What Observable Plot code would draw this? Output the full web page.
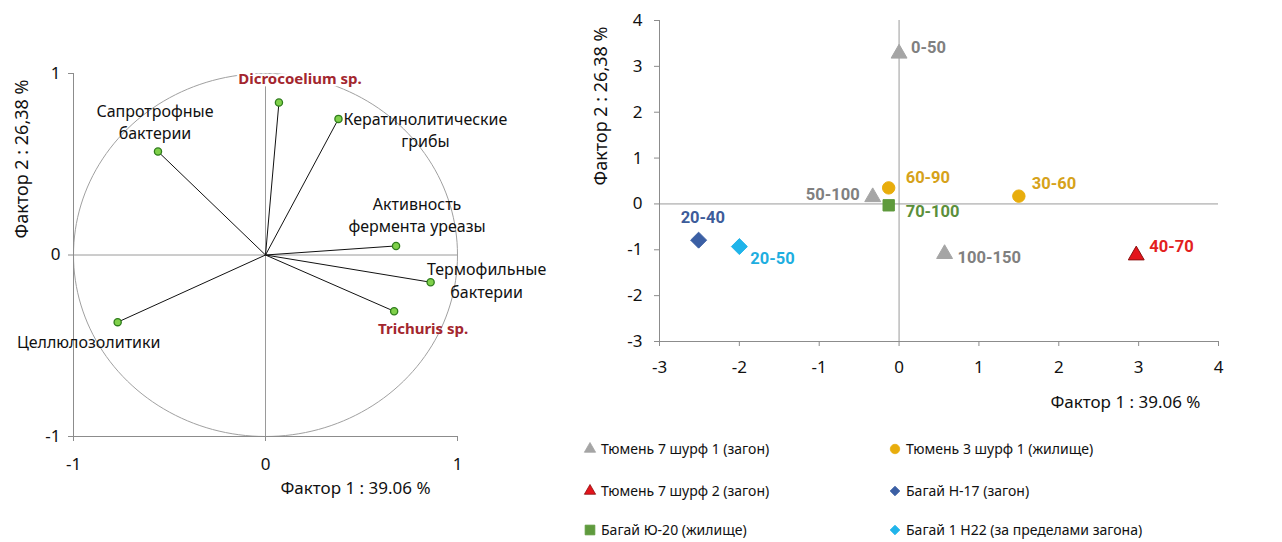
<!DOCTYPE html>
<html>
<head>
<meta charset="utf-8">
<script src="https://cdn.jsdelivr.net/npm/d3@7"></script>
<script src="https://cdn.jsdelivr.net/npm/@observablehq/plot@0.6"></script>
<style>
  html, body { margin: 0; padding: 0; background: #fff; }
  #wrap { position: relative; width: 1282px; height: 542px; overflow: hidden; background: #fff; font-family: "Noto Sans", sans-serif; }
  #left { position: absolute; left: 0; top: 0; }
  #right { position: absolute; left: 540px; top: 0; }
  .leg { position: absolute; height: 20px; line-height: 20px; font-size: 14px; color: #111; white-space: nowrap; display: flex; align-items: center; }
  .leg svg { margin-right: 4px; }
</style>
</head>
<body>
<div id="wrap">
  <div id="left"></div>
  <div id="right"></div>
  <div id="legend"></div>
</div>
<script>
// ---------- Left chart data (loadings) ----------
const leftNames = ["Dicrocoelium sp.", "Кератинолитические\nгрибы", "Сапротрофные\nбактерии", "Активность\nфермента уреазы", "Термофильные\nбактерии", "Trichuris sp.", "Целлюлозолитики"];
const leftF1 = [0.07, 0.38, -0.56, 0.68, 0.86, 0.67, -0.77];
const leftF2 = [0.84, 0.75, 0.57, 0.05, -0.15, -0.31, -0.37];
const leftTicks = [-1, 0, 1];

// ---------- Right chart data (scores) ----------
const rightLabels = ["0-50", "50-100", "100-150", "40-70", "60-90", "30-60", "70-100", "20-40", "20-50"];
const rightGroups = ["Тюмень 7 шурф 1 (загон)", "Тюмень 7 шурф 1 (загон)", "Тюмень 7 шурф 1 (загон)", "Тюмень 7 шурф 2 (загон)", "Тюмень 3 шурф 1 (жилище)", "Тюмень 3 шурф 1 (жилище)", "Багай Ю-20 (жилище)", "Багай Н-17 (загон)", "Багай 1 Н22 (за пределами загона)"];
const rightF1 = [0.0, -0.33, 0.57, 2.97, -0.13, 1.5, -0.13, -2.51, -2.0];
const rightF2 = [3.28, 0.15, -1.09, -1.12, 0.35, 0.17, -0.03, -0.79, -0.93];
const rightXTicks = [-3, -2, -1, 0, 1, 2, 3, 4];
const rightYTicks = [-3, -2, -1, 0, 1, 2, 3, 4];
const legendOrder = ["Тюмень 7 шурф 1 (загон)", "Тюмень 3 шурф 1 (жилище)", "Тюмень 7 шурф 2 (загон)", "Багай Н-17 (загон)", "Багай Ю-20 (жилище)", "Багай 1 Н22 (за пределами загона)"];

const axis1 = "Фактор 1 : 39.06 %";
const axis2 = "Фактор 2 : 26,38 %";

// ---------- Styles ----------
const groupStyle = {
  "Тюмень 7 шурф 1 (загон)": {symbol: "triangle", fill: "#a5a5a5", stroke: "#a5a5a5", text: "#808080", r: 5.9},
  "Тюмень 3 шурф 1 (жилище)": {symbol: "circle", fill: "#e8ad0c", stroke: "#e8ad0c", text: "#d6a21a", r: 6.2},
  "Тюмень 7 шурф 2 (загон)": {symbol: "triangle", fill: "#e3141c", stroke: "#8a1010", text: "#e3201e", r: 5.9},
  "Багай Н-17 (загон)": {symbol: "diamond2", fill: "#3b5fa4", stroke: "#3b5fa4", text: "#3d5c9a", r: 7.2},
  "Багай Ю-20 (жилище)": {symbol: "square", fill: "#5f9a3d", stroke: "#5f9a3d", text: "#5b8f3b", r: 6.4},
  "Багай 1 Н22 (за пределами загона)": {symbol: "diamond2", fill: "#20b4ea", stroke: "#20b4ea", text: "#1eaee0", r: 7.2}
};
const rightLabelPos = {
  "0-50": {dx: 12, dy: -6, anchor: "start"},
  "50-100": {dx: -13, dy: -2, anchor: "end"},
  "100-150": {dx: 13, dy: 4, anchor: "start"},
  "40-70": {dx: 13, dy: -9, anchor: "start"},
  "60-90": {dx: 17, dy: -10, anchor: "start"},
  "30-60": {dx: 13, dy: -12, anchor: "start"},
  "70-100": {dx: 17, dy: 6, anchor: "start"},
  "20-40": {dx: -18, dy: -22, anchor: "start"},
  "20-50": {dx: 11, dy: 12, anchor: "start"}
};
const leftLabelPos = [
  {dx: 21, dy: -25, anchor: "middle", red: true},
  {dx: 87, dy: 10, anchor: "middle"},
  {dx: -3, dy: -31, anchor: "middle"},
  {dx: 21, dy: -32, anchor: "middle"},
  {dx: 56, dy: -3, anchor: "middle"},
  {dx: 29, dy: 16, anchor: "middle", red: true},
  {dx: -29, dy: 19, anchor: "middle"}
];

const leftRows = leftNames.map((n, i) => ({name: n, f1: leftF1[i], f2: leftF2[i], ...leftLabelPos[i]}));
const rightRows = rightLabels.map((l, i) => ({label: l, group: rightGroups[i], f1: rightF1[i], f2: rightF2[i]}));
const circle = d3.range(0, 361, 2).map(a => ({x: Math.cos(a * Math.PI / 180), y: Math.sin(a * Math.PI / 180)}));

const axisGray = "#8c8c8c";
const zeroGray = "#9a9a9a";
const darkRed = "#a3262e";

// ---------- Left plot ----------
const labelMarks = leftRows.map(d => Plot.text([d], {
  x: "f1", y: "f2", text: "name", dx: d.dx, dy: d.dy, textAnchor: d.anchor,
  lineHeight: 1.4, fontSize: d.red ? 15 : 16,
  fill: d.red ? darkRed : "#111",
  fontWeight: d.red ? "bold" : "normal",
  stroke: d.red && d.dy < 0 ? "white" : null, strokeWidth: 5
}));

const left = Plot.plot({
  width: 540, height: 542,
  marginLeft: 73, marginRight: 83, marginTop: 73, marginBottom: 106,
  x: {domain: [-1, 1]},
  y: {domain: [-1, 1]},
  style: {fontFamily: "Noto Sans, sans-serif", fontSize: "16px", color: "#111", background: "transparent", overflow: "visible"},
  marks: [
    Plot.line(circle, {x: "x", y: "y", stroke: "#a0a0a0", strokeWidth: 1}),
    Plot.ruleX([0], {stroke: zeroGray}),
    Plot.ruleY([0], {stroke: zeroGray}),
    Plot.ruleX([leftTicks[0]], {stroke: axisGray}),
    Plot.ruleY([leftTicks[0]], {stroke: axisGray}),
    Plot.axisX({ticks: leftTicks, tickSize: 5, tickPadding: 16, tickFormat: d => String(d), label: null, stroke: axisGray, fill: "#111", fontSize: 17}),
    Plot.axisY({ticks: leftTicks, tickSize: 5, tickPadding: 8, tickFormat: d => String(d), label: null, stroke: axisGray, fill: "#111", fontSize: 17}),
    Plot.link(leftRows, {x1: d => 0, y1: d => 0, x2: "f1", y2: "f2", stroke: "#111", strokeWidth: 1}),
    Plot.dot(leftRows, {x: "f1", y: "f2", r: 3.6, fill: "#7fd04a", stroke: "#2f7d1c", strokeWidth: 1.3}),
    ...labelMarks,
    Plot.text([axis1], {frameAnchor: "bottom", dx: 90, dy: 57, textAnchor: "middle", fontSize: 17, fill: "#111"}),
    Plot.text([axis2], {frameAnchor: "left", dx: -51, dy: -96, textAnchor: "middle", rotate: -90, fontSize: 18, fill: "#111"})
  ]
});
document.getElementById("left").appendChild(left);

// ---------- Right plot ----------
const textMarks = rightRows.map(d => Plot.text([d], {
  x: "f1", y: "f2", text: "label",
  dx: rightLabelPos[d.label].dx, dy: rightLabelPos[d.label].dy, textAnchor: rightLabelPos[d.label].anchor,
  fill: groupStyle[d.group].text, fontWeight: "bold", fontSize: 16.5,
  fontFamily: "'Liberation Sans Narrow', 'Arial Narrow', Roboto, sans-serif"
}));

const right = Plot.plot({
  width: 742, height: 420,
  marginLeft: 119, marginRight: 64, marginTop: 20, marginBottom: 79,
  x: {domain: [rightXTicks[0], rightXTicks[rightXTicks.length - 1]]},
  y: {domain: [rightYTicks[0], rightYTicks[rightYTicks.length - 1]]},
  r: {type: "identity"},
  symbol: {domain: legendOrder, range: legendOrder.map(g => groupStyle[g].symbol)},
  color: {domain: legendOrder, range: legendOrder.map(g => groupStyle[g].fill)},
  style: {fontFamily: "Noto Sans, sans-serif", fontSize: "16px", color: "#111", background: "transparent", overflow: "visible"},
  marks: [
    Plot.ruleX([0], {stroke: zeroGray}),
    Plot.ruleY([0], {stroke: zeroGray}),
    Plot.ruleX([rightXTicks[0]], {stroke: axisGray}),
    Plot.ruleY([rightYTicks[0]], {stroke: axisGray}),
    Plot.axisX({ticks: rightXTicks, tickSize: 5, tickPadding: 14, tickFormat: d => String(d), label: null, stroke: axisGray, fill: "#111", fontSize: 17}),
    Plot.axisY({ticks: rightYTicks, tickSize: 5, tickPadding: 12, tickFormat: d => String(d), label: null, stroke: axisGray, fill: "#111", fontSize: 17}),
    Plot.dot(rightRows, {
      x: "f1", y: "f2", symbol: "group", fill: "group",
      stroke: d => groupStyle[d.group].stroke, strokeWidth: 1,
      r: d => groupStyle[d.group].r
    }),
    ...textMarks,
    Plot.text([axis1], {frameAnchor: "bottom-right", dx: -18, dy: 66, textAnchor: "end", fontSize: 17, fill: "#111"}),
    Plot.text([axis2], {frameAnchor: "left", dx: -58, dy: -75, textAnchor: "middle", rotate: -90, fontSize: 18, fill: "#111"})
  ]
});
document.getElementById("right").appendChild(right);

// ---------- Legend ----------
const legendPos = [
  {left: 583, top: 439}, {left: 888, top: 439},
  {left: 583, top: 481}, {left: 888, top: 481},
  {left: 583, top: 520}, {left: 888, top: 520}
];
const legendDiv = document.getElementById("legend");
legendOrder.forEach((g, i) => {
  const st = groupStyle[g];
  const item = document.createElement("div");
  item.className = "leg";
  item.style.left = legendPos[i].left + "px";
  item.style.top = legendPos[i].top + "px";
  const symMap = {triangle: d3.symbolTriangle, circle: d3.symbolCircle, square: d3.symbolSquare, diamond2: d3.symbolDiamond2};
  const size = st.symbol === "circle" ? 70 : st.symbol === "square" ? 95 : st.symbol === "triangle" ? 55 : 60;
  const path = d3.symbol(symMap[st.symbol], size)();
  const svg = d3.create("svg").attr("width", 14).attr("height", 14).attr("viewBox", "-7 -7 14 14");
  svg.append("path").attr("d", path).attr("fill", st.fill).attr("stroke", st.stroke).attr("stroke-width", 0.8);
  item.appendChild(svg.node());
  const span = document.createElement("span");
  span.textContent = g;
  item.appendChild(span);
  legendDiv.appendChild(item);
});
</script>
</body>
</html>
